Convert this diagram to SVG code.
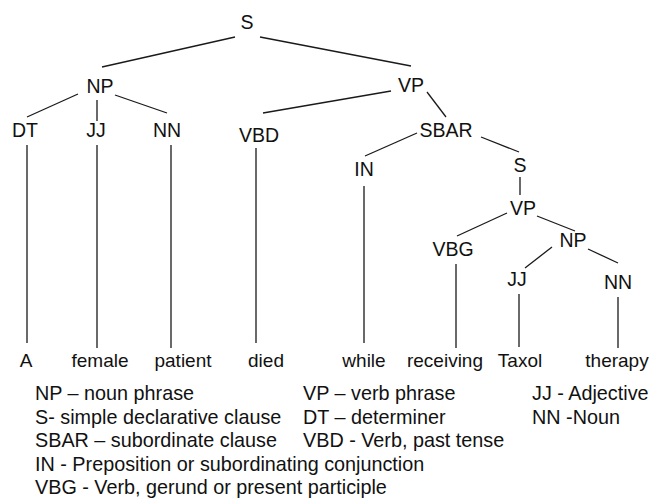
<svg xmlns="http://www.w3.org/2000/svg" width="652" height="498" viewBox="0 0 652 498">
<style>
.lbl{font-family:"Liberation Sans",Arial,sans-serif;font-size:19.5px;fill:#111;text-anchor:middle}
.word{font-family:"Liberation Sans",Arial,sans-serif;font-size:19px;fill:#111;text-anchor:middle}
.leg{font-family:"Liberation Sans",Arial,sans-serif;font-size:19.8px;fill:#111}
.edge{stroke:#1a1a1a;stroke-width:1.3;fill:none}
</style>
<rect width="652" height="498" fill="#fff"/>
<g id="connectors">
<line class="edge" x1="235" y1="37" x2="102" y2="67"/>
<line class="edge" x1="260" y1="37" x2="411" y2="66"/>
<line class="edge" x1="78" y1="94" x2="27" y2="117"/>
<line class="edge" x1="97" y1="100" x2="97" y2="121"/>
<line class="edge" x1="115" y1="95" x2="167" y2="113"/>
<line class="edge" x1="391" y1="91" x2="263" y2="113"/>
<line class="edge" x1="427" y1="92" x2="446" y2="117"/>
<line class="edge" x1="417" y1="133" x2="365" y2="156"/>
<line class="edge" x1="481" y1="137" x2="519" y2="152"/>
<line class="edge" x1="520" y1="177" x2="520" y2="195"/>
<line class="edge" x1="507" y1="213" x2="457" y2="236"/>
<line class="edge" x1="537" y1="216" x2="575" y2="231"/>
<line class="edge" x1="552" y1="247" x2="525" y2="268"/>
<line class="edge" x1="588" y1="249" x2="618" y2="263"/>
<line class="edge" x1="27" y1="145" x2="27" y2="343"/>
<line class="edge" x1="97" y1="145" x2="97" y2="348"/>
<line class="edge" x1="171" y1="145" x2="171" y2="348"/>
<line class="edge" x1="256" y1="148" x2="256" y2="343"/>
<line class="edge" x1="364" y1="186" x2="364" y2="343"/>
<line class="edge" x1="456" y1="264" x2="456" y2="348"/>
<line class="edge" x1="519" y1="294" x2="519" y2="347"/>
<line class="edge" x1="618" y1="297" x2="618" y2="348"/>
</g>
<g id="n-S"><text class="lbl" x="247" y="29">S</text></g>
<g id="n-NP"><text class="lbl" x="100" y="93">NP</text></g>
<g id="n-VP"><text class="lbl" x="411" y="92">VP</text></g>
<g id="n-DT"><text class="lbl" x="25" y="137">DT</text></g>
<g id="n-JJ"><text class="lbl" x="96" y="137">JJ</text></g>
<g id="n-NN"><text class="lbl" x="167" y="137">NN</text></g>
<g id="n-VBD"><text class="lbl" x="259" y="142">VBD</text></g>
<g id="n-SBAR"><text class="lbl" x="446" y="137">SBAR</text></g>
<g id="n-IN"><text class="lbl" x="364" y="176">IN</text></g>
<g id="n-S2"><text class="lbl" x="520" y="172">S</text></g>
<g id="n-VP2"><text class="lbl" x="523" y="215">VP</text></g>
<g id="n-VBG"><text class="lbl" x="453" y="256">VBG</text></g>
<g id="n-NP2"><text class="lbl" x="573" y="247">NP</text></g>
<g id="n-JJ2"><text class="lbl" x="517" y="286">JJ</text></g>
<g id="n-NN2"><text class="lbl" x="618" y="289">NN</text></g>
<g id="w-A"><text class="word" x="26" y="367">A</text></g>
<g id="w-female"><text class="word" x="100" y="367">female</text></g>
<g id="w-patient"><text class="word" x="183" y="367">patient</text></g>
<g id="w-died"><text class="word" x="266" y="367">died</text></g>
<g id="w-while"><text class="word" x="364" y="367">while</text></g>
<g id="w-receiving"><text class="word" x="445" y="367">receiving</text></g>
<g id="w-Taxol"><text class="word" x="520" y="367">Taxol</text></g>
<g id="w-therapy"><text class="word" x="617" y="367">therapy</text></g>
<g id="legend">
<text class="leg" x="35" y="400">NP – noun phrase</text>
<text class="leg" x="35" y="423.5">S- simple declarative clause</text>
<text class="leg" x="35" y="447">SBAR – subordinate clause</text>
<text class="leg" x="35" y="470.5">IN - Preposition or subordinating conjunction</text>
<text class="leg" x="35" y="494">VBG - Verb, gerund or present participle</text>
<text class="leg" x="303" y="400">VP – verb phrase</text>
<text class="leg" x="303" y="423.5">DT – determiner</text>
<text class="leg" x="303" y="447">VBD - Verb, past tense</text>
<text class="leg" x="532" y="400">JJ - Adjective</text>
<text class="leg" x="532" y="423.5">NN -Noun</text>
</g>
</svg>
